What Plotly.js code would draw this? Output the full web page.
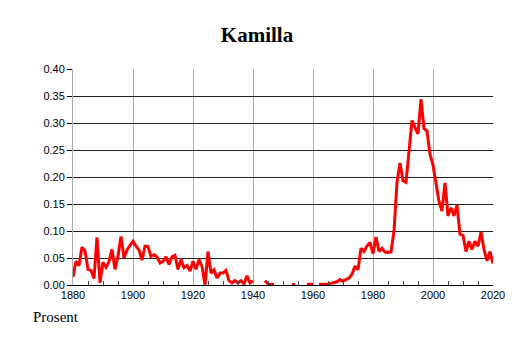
<!DOCTYPE html>
<html>
<head>
<meta charset="utf-8">
<script src="https://cdn.plot.ly/plotly-3.0.1.min.js"></script>
<style>html,body{margin:0;padding:0;background:#fff}#chart{width:514px;height:343px}</style>
</head>
<body>
<div id="chart"></div>
<script>
var chartTitle = "Kamilla";
var yLabel = "Prosent";
var years = [
1880,1881,1882,1883,1884,1885,1886,1887,1888,1889,
1890,1891,1892,1893,1894,1895,1896,1897,1898,1899,
1900,1901,1902,1903,1904,1905,1906,1907,1908,1909,
1910,1911,1912,1913,1914,1915,1916,1917,1918,1919,
1920,1921,1922,1923,1924,1925,1926,1927,1928,1929,
1930,1931,1932,1933,1934,1935,1936,1937,1938,1939,
1940,1941,1942,1943,1944,1945,1946,1947,1948,1949,
1950,1951,1952,1953,1954,1955,1956,1957,1958,1959,
1960,1961,1962,1963,1964,1965,1966,1967,1968,1969,
1970,1971,1972,1973,1974,1975,1976,1977,1978,1979,
1980,1981,1982,1983,1984,1985,1986,1987,1988,1989,
1990,1991,1992,1993,1994,1995,1996,1997,1998,1999,
2000,2001,2002,2003,2004,2005,2006,2007,2008,2009,
2010,2011,2012,2013,2014,2015,2016,2017,2018,2019,
2020];
var percent = [
0.015,0.044,0.036,0.070,0.063,0.029,0.027,0.012,0.088,0.004,
0.042,0.033,0.043,0.066,0.029,0.053,0.090,0.050,0.065,0.074,
0.081,0.072,0.065,0.046,0.072,0.071,0.053,0.056,0.052,0.041,
0.044,0.052,0.038,0.052,0.055,0.029,0.047,0.032,0.036,0.026,
0.044,0.029,0.047,0.035,0.000,0.062,0.022,0.028,0.013,0.022,
0.022,0.027,0.008,0.004,0.008,0.004,0.008,0.002,0.017,0.004,
0.008,null,null,null,0.008,0.002,0.001,0.001,null,null,
null,null,null,0.001,0.001,null,null,null,0.001,0.001,
0.002,null,0.001,0.001,0.002,0.002,0.003,0.005,0.006,0.010,
0.007,0.010,0.013,0.020,0.035,0.028,0.068,0.062,0.072,0.079,
0.058,0.089,0.062,0.068,0.061,0.060,0.061,0.100,0.190,0.226,
0.193,0.190,0.244,0.305,0.292,0.280,0.344,0.290,0.285,0.242,
0.222,0.186,0.155,0.137,0.189,0.128,0.143,0.128,0.148,0.094,
0.092,0.062,0.081,0.066,0.081,0.072,0.098,0.066,0.045,0.062,
0.040];

var trace = {
  x: years, y: percent, type: 'scatter', mode: 'lines',
  connectgaps: false,
  line: {color: '#ff0000', width: 3},
  hoverinfo: 'x+y'
};
var layout = {
  width: 514, height: 343,
  margin: {l: 73, r: 21, t: 69, b: 58},
  paper_bgcolor: '#ffffff', plot_bgcolor: '#ffffff',
  showlegend: false,
  title: {text: '<b>' + chartTitle + '</b>', font: {family: 'Liberation Serif, Times New Roman, serif', size: 21, color: '#000'},
          xref: 'container', x: 0.5, xanchor: 'center', yref: 'container', y: 0.9, yanchor: 'middle'},
  xaxis: {
    range: [1880, 2020], tick0: 1880, dtick: 20,
    showgrid: true, gridcolor: '#aaaaaa', gridwidth: 1,
    showline: true, linecolor: '#000', linewidth: 1,
    ticks: '', zeroline: false,
    tickfont: {family: 'Liberation Sans, Arial, sans-serif', size: 11, color: '#000'},
    minor: {dtick: 5, ticks: 'inside', ticklen: 4, tickcolor: '#444', showgrid: false}
  },
  yaxis: {
    range: [0, 0.4], dtick: 0.05, tickformat: '.2f',
    showgrid: true, gridcolor: '#222', gridwidth: 1,
    showline: true, linecolor: '#aaaaaa', linewidth: 1,
    ticks: 'outside', ticklen: 5, tickcolor: '#000',
    zeroline: false,
    tickfont: {family: 'Liberation Sans, Arial, sans-serif', size: 11, color: '#000'}
  },
  annotations: [{
    text: yLabel, xref: 'paper', yref: 'paper', x: -0.1, y: -0.149,
    xanchor: 'left', yanchor: 'middle', showarrow: false,
    font: {family: 'Liberation Serif, Times New Roman, serif', size: 15, color: '#000'}
  }]
};
Plotly.newPlot('chart', [trace], layout, {displayModeBar: false, staticPlot: true});
</script>
</body>
</html>
